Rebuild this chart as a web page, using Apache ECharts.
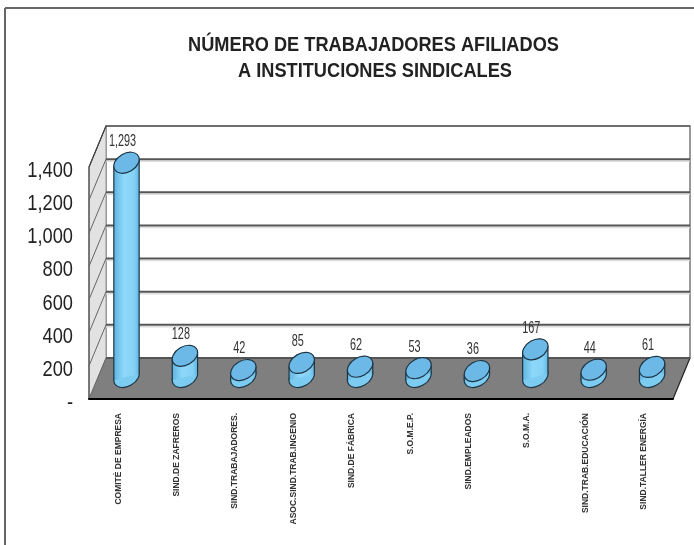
<!DOCTYPE html>
<html>
<head>
<meta charset="utf-8">
<title>Trabajadores afiliados</title>
<style>
  html, body { margin: 0; padding: 0; background: #fff; }
  #main { width: 694px; height: 545px; }
</style>
</head>
<body>
<div id="main"></div>
<script src="https://cdn.jsdelivr.net/npm/echarts@6/dist/echarts.min.js"></script>
<script>
var categories = ['COMITÉ DE EMPRESA', 'SIND.DE ZAFREROS', 'SIND.TRABAJADORES.', 'ASOC.SIND.TRAB.INGENIO', 'SIND.DE FÁBRICA',
  'S.O.M.E.P.', 'SIND.EMPLEADOS', 'S.O.M.A.', 'SIND.TRAB.EDUCACIÓN', 'SIND.TALLER ENERGÍA'];
var afiliados = [1293, 128, 42, 85, 62, 53, 36, 167, 44, 61];
var yTicks = [0, 200, 400, 600, 800, 1000, 1200, 1400];
var titulo = ['NÚMERO DE TRABAJADORES AFILIADOS', 'A INSTITUCIONES SINDICALES'];

var FONT = '"Liberation Sans", Arial, sans-serif';
// profundidad del piso (falso 3D)
var DEPTH_X = 17, DEPTH_Y = 41;
var BAR_DX = 8.3, BAR_DY = 22;
// elipse inclinada de cada cilindro
var RX = 13.6, RY = 9.3, TILT = 30 * Math.PI / 180;
var HALF_W = Math.sqrt(RX * RX * Math.pow(Math.cos(TILT), 2) + RY * RY * Math.pow(Math.sin(TILT), 2));
// desplazamiento vertical del punto tangente respecto al centro de la elipse
var TANGENT_DY = (RX * RX - RY * RY) * Math.sin(TILT) * Math.cos(TILT) / HALF_W;

function fmt(v) {
  return v === 0 ? '-' : v.toLocaleString('en-US');
}

function renderRoom(params, api) {
  var cs = params.coordSys;
  var l = cs.x, r = cs.x + cs.width;
  var y0 = api.coord([0, 0])[1], yMax = api.coord([0, 1400])[1];
  return {
    type: 'group',
    children: [
      { type: 'polygon', shape: { points: [[l + DEPTH_X, yMax - DEPTH_Y], [r + DEPTH_X, yMax - DEPTH_Y], [r + DEPTH_X, y0 - DEPTH_Y], [l + DEPTH_X, y0 - DEPTH_Y]] },
        style: { fill: '#fff', stroke: '#777', lineWidth: 1.5 } },
      { type: 'polygon', shape: { points: [[l, yMax], [l + DEPTH_X, yMax - DEPTH_Y], [l + DEPTH_X, y0 - DEPTH_Y], [l, y0]] },
        style: { fill: '#e2e2e2', stroke: '#999', lineWidth: 1 } },
      { type: 'polygon', shape: { points: [[l, y0], [l + DEPTH_X, y0 - DEPTH_Y], [r + DEPTH_X, y0 - DEPTH_Y], [r, y0]] },
        style: { fill: '#7f7f7f' } },
      { type: 'polyline', shape: { points: [[l, y0], [l, yMax], [l + DEPTH_X, yMax - DEPTH_Y], [r + DEPTH_X, yMax - DEPTH_Y]] },
        style: { fill: null, stroke: '#444', lineWidth: 1.2 } },
      { type: 'line', shape: { x1: r, y1: y0, x2: r + DEPTH_X, y2: y0 - DEPTH_Y },
        style: { stroke: '#222', lineWidth: 1.2 } }
    ]
  };
}

function renderGridline(params, api) {
  var cs = params.coordSys;
  var l = cs.x, r = cs.x + cs.width;
  var v = api.value(0);
  var y = api.coord([0, v])[1];
  var children = [
    { type: 'text', x: 73, y: y + 4, scaleX: 0.83, style: { text: fmt(v), align: 'right', verticalAlign: 'middle',
      fill: '#222', font: '22px ' + FONT } },
    { type: 'line', shape: { x1: l, y1: y, x2: l + DEPTH_X, y2: y - DEPTH_Y }, style: { stroke: v === 1400 ? '#444' : '#666', lineWidth: 1 } }
  ];
  if (v !== 1400) {
    if (v !== 0) {
      children.push({ type: 'line', shape: { x1: l + DEPTH_X, y1: y - DEPTH_Y + 2, x2: r + DEPTH_X, y2: y - DEPTH_Y + 2 }, style: { stroke: '#ddd', lineWidth: 1.5 } });
    }
    children.push({ type: 'line', shape: { x1: l + DEPTH_X, y1: y - DEPTH_Y, x2: r + DEPTH_X, y2: y - DEPTH_Y }, style: { stroke: '#555', lineWidth: 2 } });
  }
  return { type: 'group', children: children };
}

function bodyFill() {
  return new echarts.graphic.LinearGradient(0, 0, 1, 0, [
    { offset: 0, color: '#5fb4e0' },
    { offset: 0.4, color: '#8ed8fa' },
    { offset: 0.8, color: '#85d2f6' },
    { offset: 1, color: '#62b6e0' }
  ]);
}

function renderCylinder(params, api) {
  var idx = api.value(0), val = api.value(1);
  var base = api.coord([idx, 0]);
  var top = api.coord([idx, val]);
  var cx = base[0] + BAR_DX;
  var yb = base[1] - BAR_DY, yt = top[1] - BAR_DY;
  var xl = cx - HALF_W, xr = cx + HALF_W;
  var line = '#1d3544';
  return {
    type: 'group',
    children: [
      { type: 'ellipse', x: cx, y: yb, rotation: TILT, shape: { cx: 0, cy: 0, rx: RX, ry: RY },
        style: { fill: '#7ccbf1', stroke: line, lineWidth: 1.2 } },
      { type: 'polygon', shape: { points: [[xl, yt + TANGENT_DY], [xr, yt - TANGENT_DY], [xr, yb - TANGENT_DY], [xl, yb + TANGENT_DY]] },
        style: { fill: bodyFill() } },
      { type: 'line', shape: { x1: xl, y1: yt + TANGENT_DY, x2: xl, y2: yb + TANGENT_DY }, style: { stroke: line, lineWidth: 1.2 } },
      { type: 'line', shape: { x1: xr, y1: yt - TANGENT_DY, x2: xr, y2: yb - TANGENT_DY }, style: { stroke: line, lineWidth: 1.2 } },
      { type: 'ellipse', x: cx, y: yt, rotation: TILT, shape: { cx: 0, cy: 0, rx: RX, ry: RY },
        style: { fill: '#6cb9e8', stroke: line, lineWidth: 1.2 } },
      { type: 'text', x: cx - 4, y: yt - 21, scaleX: 0.68, style: { text: fmt(val), align: 'center', verticalAlign: 'middle',
        fill: '#333', font: '16px ' + FONT } }
    ]
  };
}

var chart = echarts.init(document.getElementById('main'));
chart.setOption({
  animation: false,
  backgroundColor: '#fff',
  grid: { left: 89, top: 167, width: 584, height: 232 },
  graphic: [
    { type: 'line', shape: { x1: 5, y1: 8, x2: 694, y2: 8 }, style: { stroke: '#333', lineWidth: 1.5 } },
    { type: 'line', shape: { x1: 5, y1: 8, x2: 5, y2: 545 }, style: { stroke: '#666', lineWidth: 2 } },
    { type: 'text', x: 373.5, y: 45, scaleX: 0.866, style: { text: titulo[0], align: 'center', verticalAlign: 'middle', fill: '#222', font: 'bold 21px ' + FONT } },
    { type: 'text', x: 375, y: 71, scaleX: 0.866, style: { text: titulo[1], align: 'center', verticalAlign: 'middle', fill: '#222', font: 'bold 21px ' + FONT } }
  ],
  xAxis: {
    type: 'category',
    data: categories,
    z: 5,
    axisLine: { show: true, lineStyle: { color: '#000', width: 2 } },
    axisTick: { show: false },
    axisLabel: { rotate: 90, interval: 0, margin: 14, fontFamily: FONT, fontSize: 8.5, fontWeight: 'bold', color: '#333' }
  },
  yAxis: {
    type: 'value',
    min: 0, max: 1400, interval: 200,
    axisLine: { show: false },
    axisTick: { show: false },
    splitLine: { show: false },
    axisLabel: { show: false }
  },
  series: [
    { type: 'custom', name: 'piso', z: 1, silent: true, data: [[0, 0]], renderItem: renderRoom, encode: { x: 0, y: 1 } },
    { type: 'custom', name: 'rejilla', z: 2, silent: true, data: yTicks.map(function (v) { return [v]; }), renderItem: renderGridline },
    { type: 'custom', name: 'afiliados', z: 3, data: afiliados.map(function (v, i) { return [i, v]; }), renderItem: renderCylinder, encode: { x: 0, y: 1 } }
  ]
});
</script>
</body>
</html>
